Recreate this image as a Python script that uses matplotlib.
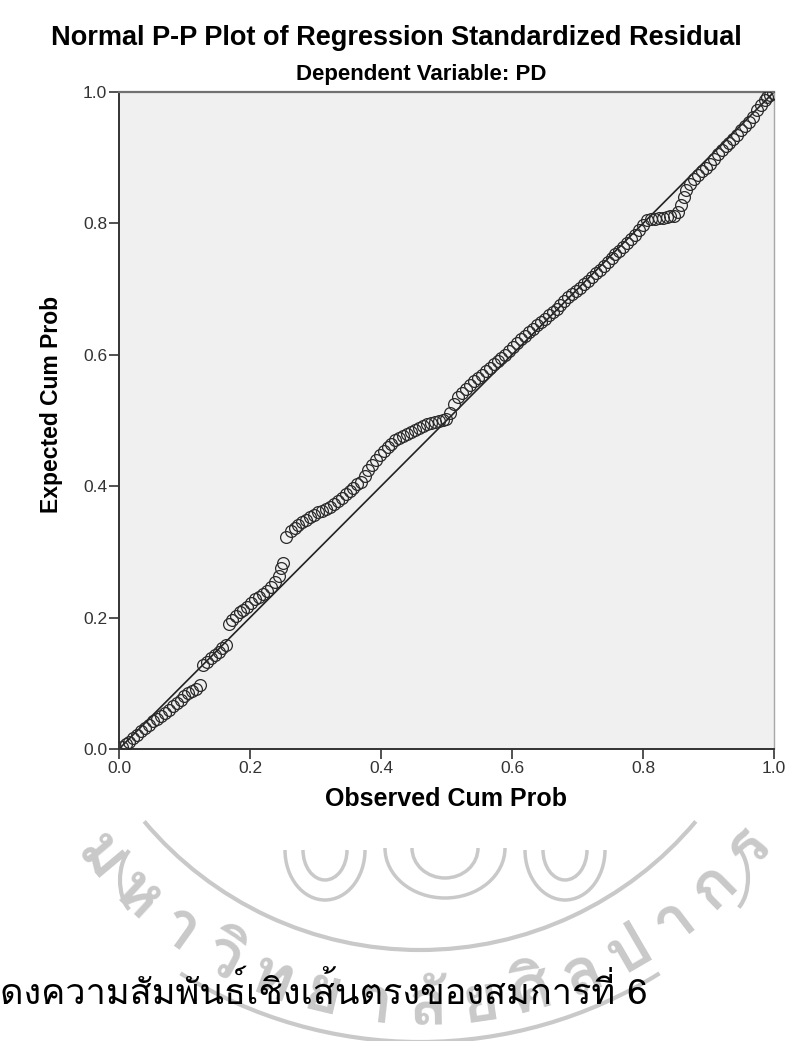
import numpy as np
import matplotlib
matplotlib.use("Agg")
import matplotlib.pyplot as plt
from matplotlib import font_manager
from matplotlib.ft2font import FT2Font
from matplotlib.patches import Arc

# Observed cum prob (x) and expected cum prob (y)
obs = [0.004, 0.010, 0.016, 0.022, 0.028, 0.034, 0.040, 0.046, 0.052, 0.058,
       0.064, 0.070, 0.076, 0.082, 0.088, 0.094, 0.100, 0.106, 0.112, 0.118, 0.124,
       0.128, 0.134, 0.140, 0.146, 0.152, 0.158, 0.164,
       0.168, 0.172, 0.178, 0.184, 0.190, 0.196, 0.202, 0.208, 0.214, 0.220,
       0.226, 0.232, 0.238, 0.244, 0.248, 0.251,
       0.255, 0.262, 0.268, 0.274, 0.280, 0.286, 0.292, 0.298, 0.304, 0.310,
       0.316, 0.322, 0.328, 0.334, 0.340, 0.346, 0.352, 0.358, 0.364, 0.370,
       0.376, 0.380,
       0.386, 0.392, 0.398, 0.404, 0.410, 0.416, 0.422, 0.428, 0.434, 0.440,
       0.446, 0.452, 0.458, 0.464, 0.470, 0.476, 0.482, 0.488, 0.494, 0.500,
       0.506, 0.512, 0.518, 0.524, 0.530, 0.536, 0.542, 0.548, 0.554, 0.560,
       0.566, 0.572, 0.578, 0.584, 0.590, 0.596, 0.602, 0.608, 0.614, 0.620,
       0.626, 0.632, 0.638, 0.644, 0.650, 0.656, 0.662, 0.668, 0.674, 0.680,
       0.686, 0.692, 0.698, 0.704, 0.710, 0.716, 0.722, 0.728, 0.734, 0.740,
       0.746, 0.752, 0.758, 0.764, 0.770, 0.776, 0.782, 0.788, 0.794, 0.800, 0.806,
       0.812, 0.818, 0.824, 0.830, 0.836, 0.842, 0.848, 0.854, 0.858, 0.862,
       0.866, 0.872, 0.878, 0.884, 0.890, 0.896, 0.902, 0.908, 0.914, 0.920,
       0.926, 0.932, 0.938, 0.944, 0.950, 0.956, 0.962, 0.968, 0.974, 0.980,
       0.986, 0.990, 0.994, 0.998]
expd = [0.003, 0.007, 0.011, 0.016, 0.022, 0.027, 0.032, 0.037, 0.042, 0.046,
        0.050, 0.055, 0.060, 0.065, 0.070, 0.075, 0.080, 0.085, 0.088, 0.092, 0.097,
        0.128, 0.133, 0.138, 0.143, 0.148, 0.153, 0.158,
        0.190, 0.196, 0.202, 0.208, 0.212, 0.216, 0.222, 0.228, 0.232, 0.236,
        0.240, 0.246, 0.254, 0.264, 0.276, 0.283,
        0.323, 0.332, 0.337, 0.341, 0.345, 0.349, 0.353, 0.356, 0.360, 0.363,
        0.366, 0.369, 0.373, 0.377, 0.382, 0.388, 0.393, 0.398, 0.403, 0.407,
        0.416, 0.425,
        0.432, 0.440, 0.447, 0.453, 0.459, 0.465, 0.470, 0.474, 0.477, 0.480,
        0.483, 0.486, 0.489, 0.492, 0.494, 0.496, 0.498, 0.500, 0.501, 0.503,
        0.512, 0.525, 0.536, 0.542, 0.548, 0.554, 0.560, 0.565, 0.570, 0.575,
        0.580, 0.586, 0.590, 0.595, 0.600, 0.606, 0.612, 0.618, 0.624, 0.628,
        0.634, 0.640, 0.645, 0.650, 0.655, 0.660, 0.665, 0.670, 0.676, 0.682,
        0.688, 0.692, 0.697, 0.702, 0.708, 0.713, 0.718, 0.724, 0.729, 0.735,
        0.741, 0.747, 0.753, 0.758, 0.764, 0.770, 0.776, 0.782, 0.790, 0.798, 0.805,
        0.806, 0.807, 0.808, 0.809, 0.810, 0.811, 0.812, 0.818, 0.828, 0.840,
        0.851, 0.860, 0.868, 0.874, 0.880, 0.885, 0.890, 0.898, 0.905, 0.912,
        0.918, 0.923, 0.928, 0.935, 0.942, 0.948, 0.955, 0.962, 0.972, 0.980,
        0.988, 0.992, 0.995, 0.998]

ticks = [0.0, 0.2, 0.4, 0.6, 0.8, 1.0]
tick_labels = ["0.0", "0.2", "0.4", "0.6", "0.8", "1.0"]

title = "Normal P-P Plot of Regression Standardized Residual"
subtitle = "Dependent Variable: PD"
xlab = "Observed Cum Prob"
ylab = "Expected Cum Prob"
caption = "ดงความสัมพันธ์เชิงเส้นตรงของสมการที่ 6"
# watermark seal text, split in letter clusters
seal_letters = ["ม", "ห", "า", "วิ", "ท", "ย", "า", "ลั", "ย", "ศิ", "ล", "ป", "า", "ก", "ร"]


# find some installed font that has Thai glyphs
def thai_font():
    for f in font_manager.fontManager.ttflist:
        try:
            if 0x0E14 in FT2Font(f.fname).get_charmap():
                return f.name
        except Exception:
            pass
    return "DejaVu Sans"


thai = thai_font()
plt.rcParams['font.family'] = ['Liberation Sans', 'DejaVu Sans']

fig = plt.figure(figsize=(7.88, 10.41), dpi=100)

# background layer in image pixel coords for the faint seal
bg = fig.add_axes([0, 0, 1, 1], zorder=0)
bg.set_xlim(0, 788)
bg.set_ylim(1041, 0)
bg.axis('off')
seal_col = '#c9c9c9'
cx, cy = 420, 590
bg.add_patch(Arc((cx, cy), 2 * 360, 2 * 360, theta1=40, theta2=140,
                 color=seal_col, lw=3))
bg.add_patch(Arc((cx, cy), 2 * 452, 2 * 452, theta1=58, theta2=122,
                 color=seal_col, lw=3))
bg.add_patch(Arc((140, 880), 40, 70, theta1=110, theta2=250, color=seal_col, lw=3))
bg.add_patch(Arc((728, 878), 40, 70, theta1=-70, theta2=70, color=seal_col, lw=3))
# petal-like swirls of the emblem (u-shaped on screen, y axis is flipped)
for px, py, w in [(325, 850, 80), (445, 848, 120), (565, 850, 80)]:
    bg.add_patch(Arc((px, py), w, 100, theta1=0, theta2=180, color=seal_col, lw=2.5))
    bg.add_patch(Arc((px, py), w * 0.55, 60, theta1=0, theta2=180,
                     color=seal_col, lw=2.5))
angs = np.linspace(-140, -38, len(seal_letters))
for ch, a in zip(seal_letters, angs):
    r = np.radians(a)
    px = cx + 418 * np.cos(r)
    py = cy - 418 * np.sin(r)
    bg.text(px, py, ch, fontsize=46, fontweight='bold', color=seal_col,
            ha='center', va='center', rotation=a + 90, family=[thai])

ax = fig.add_axes([0.1510, 0.2805, 0.8312, 0.6311], zorder=1)
ax.set_facecolor('#f0f0f0')

ax.plot([0, 1], [0, 1], color='#222222', lw=1.2, zorder=2)
ax.plot(obs, expd, 'o', mfc='none', mec='#2b2b2b', ms=8.5, mew=0.9, zorder=3)

ax.set_xlim(0, 1)
ax.set_ylim(0, 1)
ax.set_xticks(ticks)
ax.set_xticklabels(tick_labels)
ax.set_yticks(ticks)
ax.set_yticklabels(tick_labels)
ax.tick_params(direction='out', length=7, width=1.2, colors='#333333',
               labelsize=12.5, labelcolor='#333333', pad=1.5)

for s in ['left', 'bottom']:
    ax.spines[s].set_color('#333333')
    ax.spines[s].set_linewidth(1.4)
ax.spines['top'].set_color('#707070')
ax.spines['top'].set_linewidth(1.6)
ax.spines['right'].set_color('#a8a8a8')
ax.spines['right'].set_linewidth(1.0)

ax.set_xlabel(xlab, fontsize=18, fontweight='bold', labelpad=8)
ax.set_ylabel(ylab, fontsize=16.5, fontweight='bold')
ax.yaxis.set_label_coords(-0.085, 0.524)

fig.text(0.503, 0.9635, title, ha='center', va='center', fontsize=19.5,
         fontweight='bold')
fig.text(0.534, 0.928, subtitle, ha='center', va='center', fontsize=16,
         fontweight='bold')

fig.text(0.0, 0.036, caption, ha='left', va='baseline', fontsize=26,
         family=[thai, 'DejaVu Sans'], zorder=5)

fig.savefig('out.png', dpi=100)
